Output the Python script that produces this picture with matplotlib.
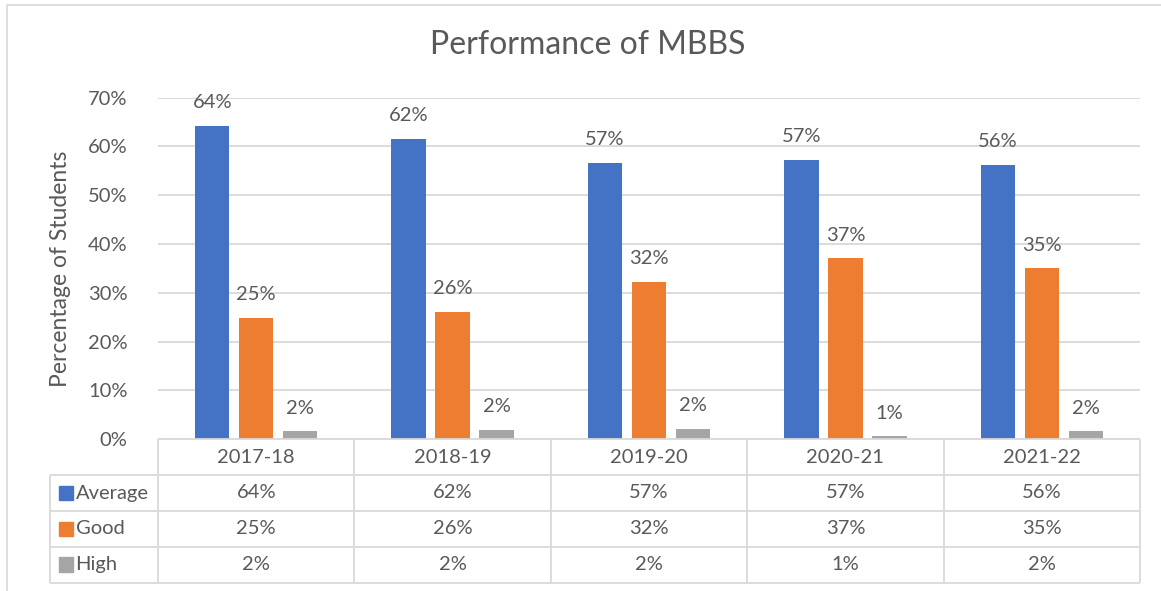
import matplotlib
matplotlib.use("Agg")
import matplotlib.pyplot as plt
from matplotlib.patches import Rectangle

# Dados do gráfico
anos = ["2017-18", "2018-19", "2019-20", "2020-21", "2021-22"]
series = ["Average", "Good", "High"]
average = [64.2, 61.5, 56.6, 57.2, 56.2]
good = [24.9, 26.1, 32.2, 37.1, 35.0]
high = [1.6, 1.9, 2.1, 0.6, 1.6]
cores = ["#4472C4", "#ED7D31", "#A5A5A5"]

TXT = "#595959"
GRID = "#D9D9D9"
plt.rcParams["font.family"] = ["Lato", "DejaVu Sans"]

W, H = 1161, 591
fig = plt.figure(figsize=(W / 100, H / 100), dpi=100)


def px(x0, y0, x1, y1):
    # retângulo em pixels -> coordenadas da figura
    return [x0 / W, 1 - y1 / H, (x1 - x0) / W, (y1 - y0) / H]


# moldura do gráfico
fig.patches.append(Rectangle((7 / W, -0.1), 1.2, 1 - 5 / H + 0.1, transform=fig.transFigure,
                             fill=False, edgecolor=GRID, lw=1.2))

ax = fig.add_axes(px(158, 97.5, 1140, 439.3))
x = list(range(len(anos)))
offsets = [-0.224, 0, 0.224]
for vals, off, cor in zip([average, good, high], offsets, cores):
    pos = [i + off for i in x]
    bars = ax.bar(pos, vals, width=0.175, color=cor, zorder=3)
    for b, v in zip(bars, vals):
        ax.annotate(f"{v:.0f}%", (b.get_x() + b.get_width() / 2, v), xytext=(0, 10.5),
                    textcoords="offset points", ha="center", va="bottom",
                    fontsize=14.5, color=TXT)

ax.set_xlim(-0.5, len(anos) - 0.5)
ax.set_ylim(0, 70)
ax.set_yticks(range(0, 71, 10))
ax.set_yticklabels([f"{t}%" for t in range(0, 71, 10)])
ax.tick_params(axis="y", length=0, pad=22, labelsize=14.5, labelcolor=TXT)
ax.tick_params(axis="x", length=0, labelbottom=False)
ax.grid(axis="y", color=GRID, lw=1.3, zorder=0)
for s in ax.spines.values():
    s.set_visible(False)
ax.set_ylabel("Percentage of Students", fontsize=16.5, color=TXT, labelpad=12)

fig.text(588 / W, 1 - 45 / H, "Performance of MBBS", ha="center", va="center",
         fontsize=23, color=TXT)

# tabela de dados abaixo do eixo
tab = fig.add_axes(px(158, 439.3, 1140, 582.5))
tab.set_xlim(-0.5, len(anos) - 0.5)
tab.set_ylim(0, 4)
tab.axis("off")
esq = -1.05
kw = dict(color=GRID, lw=1.3, clip_on=False, solid_capstyle="butt")
for yy in [0, 1, 2, 3]:
    tab.plot([esq, len(anos) - 0.5], [yy, yy], **kw)
tab.plot([-0.5, len(anos) - 0.5], [4, 4], **kw)
tab.plot([esq, esq], [0, 3], **kw)
for xx in range(len(anos) + 1):
    tab.plot([xx - 0.5, xx - 0.5], [0, 4], **kw)

for i, a in enumerate(anos):
    tab.text(i, 3.5, a, ha="center", va="center", fontsize=14.5, color=TXT)
for r, (nome, vals, cor) in enumerate(zip(series, [average, good, high], cores)):
    yc = 2.5 - r
    tab.add_patch(Rectangle((esq + 0.045, yc - 0.2), 0.07, 0.4, color=cor, clip_on=False))
    tab.text(esq + 0.13, yc, nome, ha="left", va="center", fontsize=14.5, color=TXT)
    for i, v in enumerate(vals):
        tab.text(i, yc, f"{v:.0f}%", ha="center", va="center", fontsize=14.5, color=TXT)

fig.savefig("out.png", dpi=100, facecolor="white")
